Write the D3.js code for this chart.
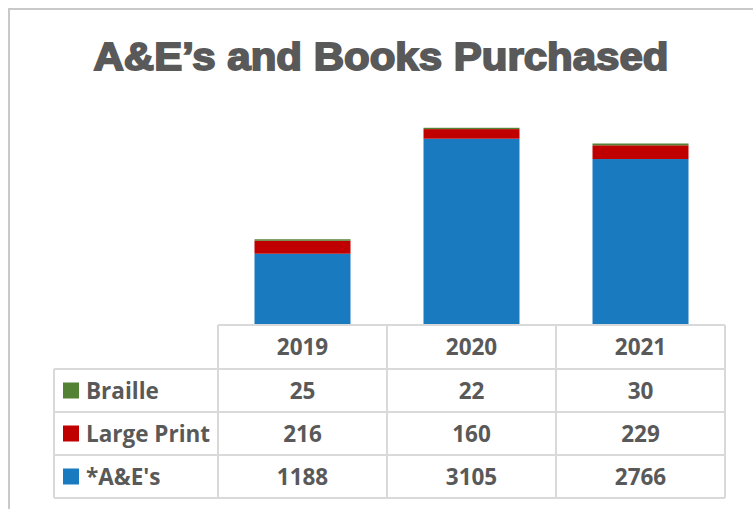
<html>
<head>
<script src="https://d3js.org/d3.v7.min.js"></script>
<style>
body { margin: 0; background: #fff; }
.cell text { font-family: "Open Sans", sans-serif; font-weight: bold; font-size: 22.5px; fill: #595959; }
</style>
</head>
<body>
<div id="chart"></div>
<script>
var years = ["2019", "2020", "2021"];
var seriesNames = ["Braille", "Large Print", "*A&E's"];
var braille = [25, 22, 30];
var largePrint = [216, 160, 229];
var aes = [1188, 3105, 2766];
var colors = ["#548235", "#c00000", "#1a7abf"];

var width = 753, height = 509;
var svg = d3.select("#chart").append("svg")
    .attr("width", width).attr("height", height);

// outer chart border
svg.append("path")
    .attr("d", "M9,509 V9 H753")
    .attr("fill", "none")
    .attr("stroke", "#c9c9c9")
    .attr("stroke-width", 2);

svg.append("text")
    .attr("x", 381).attr("y", 70)
    .attr("text-anchor", "middle")
    .attr("textLength", 575)
    .attr("lengthAdjust", "spacingAndGlyphs")
    .style("font-family", "'Liberation Sans', Arial, sans-serif")
    .style("font-weight", "900")
    .style("font-size", "38px")
    .style("fill", "#595959")
    .style("stroke", "#595959")
    .style("stroke-width", 1.8)
    .text("A&E\u2019s and Books Purchased");

var tableLeft = 218, tableRight = 725, labelLeft = 54;
var x = d3.scaleBand().domain(years).range([tableLeft, tableRight]).paddingInner(0).paddingOuter(0);
var y = d3.scaleLinear().domain([0, 3500]).range([325, 115]);

// stacked bars: A&E's at bottom, then Large Print, then Braille
var rows = years.map(function(yr, i) {
    return { year: yr, aes: aes[i], large: largePrint[i], braille: braille[i] };
});
var stack = d3.stack().keys(["aes", "large", "braille"]);
var layers = stack(rows);
var layerColors = [colors[2], colors[1], colors[0]];
var barW = 96;

svg.selectAll("g.layer")
    .data(layers)
    .enter().append("g")
    .attr("class", "layer")
    .attr("fill", function(d, i) { return layerColors[i]; })
    .selectAll("rect")
    .data(function(d) { return d; })
    .enter().append("rect")
    .attr("x", function(d) { return x(d.data.year) + (x.bandwidth() - barW) / 2; })
    .attr("width", barW)
    .attr("y", function(d) { return y(d[1]); })
    .attr("height", function(d) { return y(d[0]) - y(d[1]); });

// data table
var rowTop = [325, 369, 412, 455, 498];
var grid = svg.append("g").attr("stroke", "#d9d9d9").attr("stroke-width", 2);
grid.append("line").attr("x1", tableLeft).attr("x2", tableRight).attr("y1", rowTop[0]).attr("y2", rowTop[0]);
for (var r = 1; r < rowTop.length; r++) {
    grid.append("line").attr("x1", labelLeft).attr("x2", tableRight).attr("y1", rowTop[r]).attr("y2", rowTop[r]);
}
grid.append("line").attr("x1", labelLeft).attr("x2", labelLeft).attr("y1", rowTop[1]).attr("y2", rowTop[4]);
years.forEach(function(yr) {
    grid.append("line").attr("x1", x(yr)).attr("x2", x(yr)).attr("y1", rowTop[0]).attr("y2", rowTop[4]);
});
grid.append("line").attr("x1", tableRight).attr("x2", tableRight).attr("y1", rowTop[0]).attr("y2", rowTop[4]);

var cells = svg.append("g").attr("class", "cell");
years.forEach(function(yr) {
    cells.append("text")
        .attr("x", x(yr) + x.bandwidth() / 2)
        .attr("y", (rowTop[0] + rowTop[1]) / 2 + 8)
        .attr("text-anchor", "middle")
        .text(yr);
});
var tableSeries = [braille, largePrint, aes];
tableSeries.forEach(function(vals, r) {
    var cy = (rowTop[r + 1] + rowTop[r + 2]) / 2;
    cells.append("rect")
        .attr("x", 63).attr("y", cy - 8)
        .attr("width", 16).attr("height", 16)
        .attr("fill", colors[r]);
    cells.append("text")
        .attr("x", 86).attr("y", cy + 8)
        .text(seriesNames[r]);
    vals.forEach(function(v, i) {
        cells.append("text")
            .attr("x", x(years[i]) + x.bandwidth() / 2)
            .attr("y", cy + 8)
            .attr("text-anchor", "middle")
            .text(v);
    });
});
</script>
</body>
</html>
